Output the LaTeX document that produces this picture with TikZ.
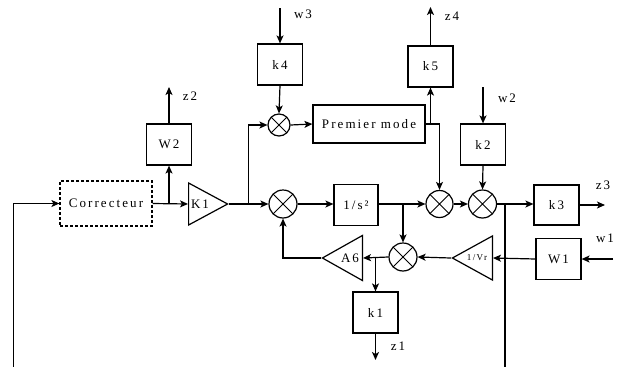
\documentclass[tikz,border=0pt]{standalone}
\usepackage{fontspec}
\setmainfont{Liberation Serif}[LetterSpace=16]
\usetikzlibrary{shapes.geometric,arrows.meta,positioning,calc}

\tikzset{
  blk/.style={draw, line width=1.2pt, minimum width=45, minimum height=41, inner sep=0pt},
  sumj/.style={circle, draw, line width=1.2pt, minimum size=28, inner sep=0pt,
    path picture={\draw[line width=1pt]
      (path picture bounding box.north west) -- (path picture bounding box.south east)
      (path picture bounding box.north east) -- (path picture bounding box.south west);}},
  gain/.style={isosceles triangle, isosceles triangle stretches, draw, line width=1.2pt,
    inner sep=0pt, minimum width=42, minimum height=39},
  sig/.style={line width=1.2pt, -{Stealth[length=8pt,width=7pt,inset=2pt]}},
  wire/.style={line width=1.2pt},
  lbl/.style={font=\fontsize{13}{14}\selectfont, inner sep=0pt},
}

\begin{document}
\begin{tikzpicture}[x=1pt, y=-1pt]
  \useasboundingbox (0,0) rectangle (635,367);
  % blocks
  \node[blk, densely dashed, minimum width=92, minimum height=45, lbl] (corr) at (106,203.5) {Correcteur};
  \node[gain, anchor=lower side] (K1) at (188,204) {};
  \node[lbl] (K1t) at (200,204) {K1};
  \node[blk, lbl] (W2) at (169,144.5) {W2};
  \node[blk, lbl] (k4) at (280,64.5) {k4};
  \node[sumj, minimum size=22] (SP) at (279,125) {};
  \node[blk, lbl, minimum width=112, minimum height=38] (PM) at (369,124) {Premier mode};
  \node[blk, lbl] (k5) at (430.5,66.5) {k5};
  \node[sumj] (S1) at (283,204) {};
  \node[blk, lbl, minimum width=44] (s2) at (356,205) {1/s²};
  \node[sumj, minimum size=27] (SA) at (439.5,204) {};
  \node[sumj] (SB) at (482.5,204) {};
  \node[blk, lbl] (k2) at (483,144.5) {k2};
  \node[blk, lbl, minimum height=40] (k3) at (556.5,205) {k3};
  \node[blk, lbl] (W1) at (558.5,259) {W1};
  \node[gain, shape border rotate=180, anchor=lower side, minimum width=44, minimum height=40] (Vr) at (493,258) {};
  \node[font=\fontsize{9}{10}\selectfont, inner sep=0pt] (Vrt) at (477,258) {1/Vr};
  \node[sumj] (SL) at (403,257) {};
  \node[gain, shape border rotate=180, anchor=lower side, minimum width=45, minimum height=40] (A6) at (363,258) {};
  \node[lbl] (A6t) at (350,258) {A6};
  \node[blk, lbl] (k1) at (375.5,312.5) {k1};
  % free ends
  \coordinate (fbL) at (13.5,367);
  \coordinate (fbR) at (505,367);
  \coordinate (z2) at (169,87);
  \coordinate (w3) at (280,8);
  \coordinate (z4) at (430.5,7);
  \coordinate (w2) at (483,87);
  \coordinate (z3) at (605,205);
  \coordinate (w1) at (613,259);
  \coordinate (z1) at (375.5,360);
  % labels of the free ends
  \node[lbl] (z2t) at (190,96) {z2};
  \node[lbl] (w3t) at (303,14) {w3};
  \node[lbl] (z4t) at (452,16) {z4};
  \node[lbl] (w2t) at (507,98) {w2};
  \node[lbl] (z3t) at (603,185) {z3};
  \node[lbl] (w1t) at (605,238) {w1};
  \node[lbl] (z1t) at (398,346) {z1};
  % connectors
  \draw[sig] (fbL) |- (corr.west);
  \draw[sig] (corr.east) -- (K1.lower side);
  \draw[sig] (W2.south |- corr.east) -- (W2.south);
  \draw[sig] (W2.north) -- (z2);
  \draw[sig] (K1.apex) -- (S1.west);
  \draw[sig] ($(K1.apex)!0.5!(S1.west)$) |- (SP.west);
  \draw[sig] (w3) -- (k4.north);
  \draw[sig] (k4.south) -- (SP.north);
  \draw[sig] (SP.east) -- (PM.west);
  \draw[sig] (PM.east) -| (SA.north);
  \draw[sig] (PM.east -| k5.south) -- (k5.south);
  \draw[sig] (k5.north) -- (z4);
  \draw[sig] (S1.east) -- (s2.west |- S1.east);
  \draw[sig] (s2.east |- SA.west) -- (SA.west);
  \draw[sig] (SL.north |- SA.west) -- (SL.north);
  \draw[sig] (SA.east) -- (SB.west);
  \draw[sig] (w2) -- (k2.north);
  \draw[sig] (k2.south) -- (SB.north);
  \draw[sig] (SB.east) -- (k3.west |- SB.east);
  \draw[wire] (fbR |- SB.east) -- (fbR);
  \draw[sig] (k3.east) -- (z3);
  \draw[sig] (w1) -- (W1.east);
  \draw[sig] (W1.west) -- (Vr.lower side);
  \draw[sig] (Vr.apex) -- (SL.east);
  \draw[sig] (SL.west) -- (A6.lower side);
  \draw[sig] (k1.north |- SL.west) -- (k1.north);
  \draw[sig] (A6.apex) -| (S1.south);
  \draw[sig] (k1.south) -- (z1);
\end{tikzpicture}
\end{document}
